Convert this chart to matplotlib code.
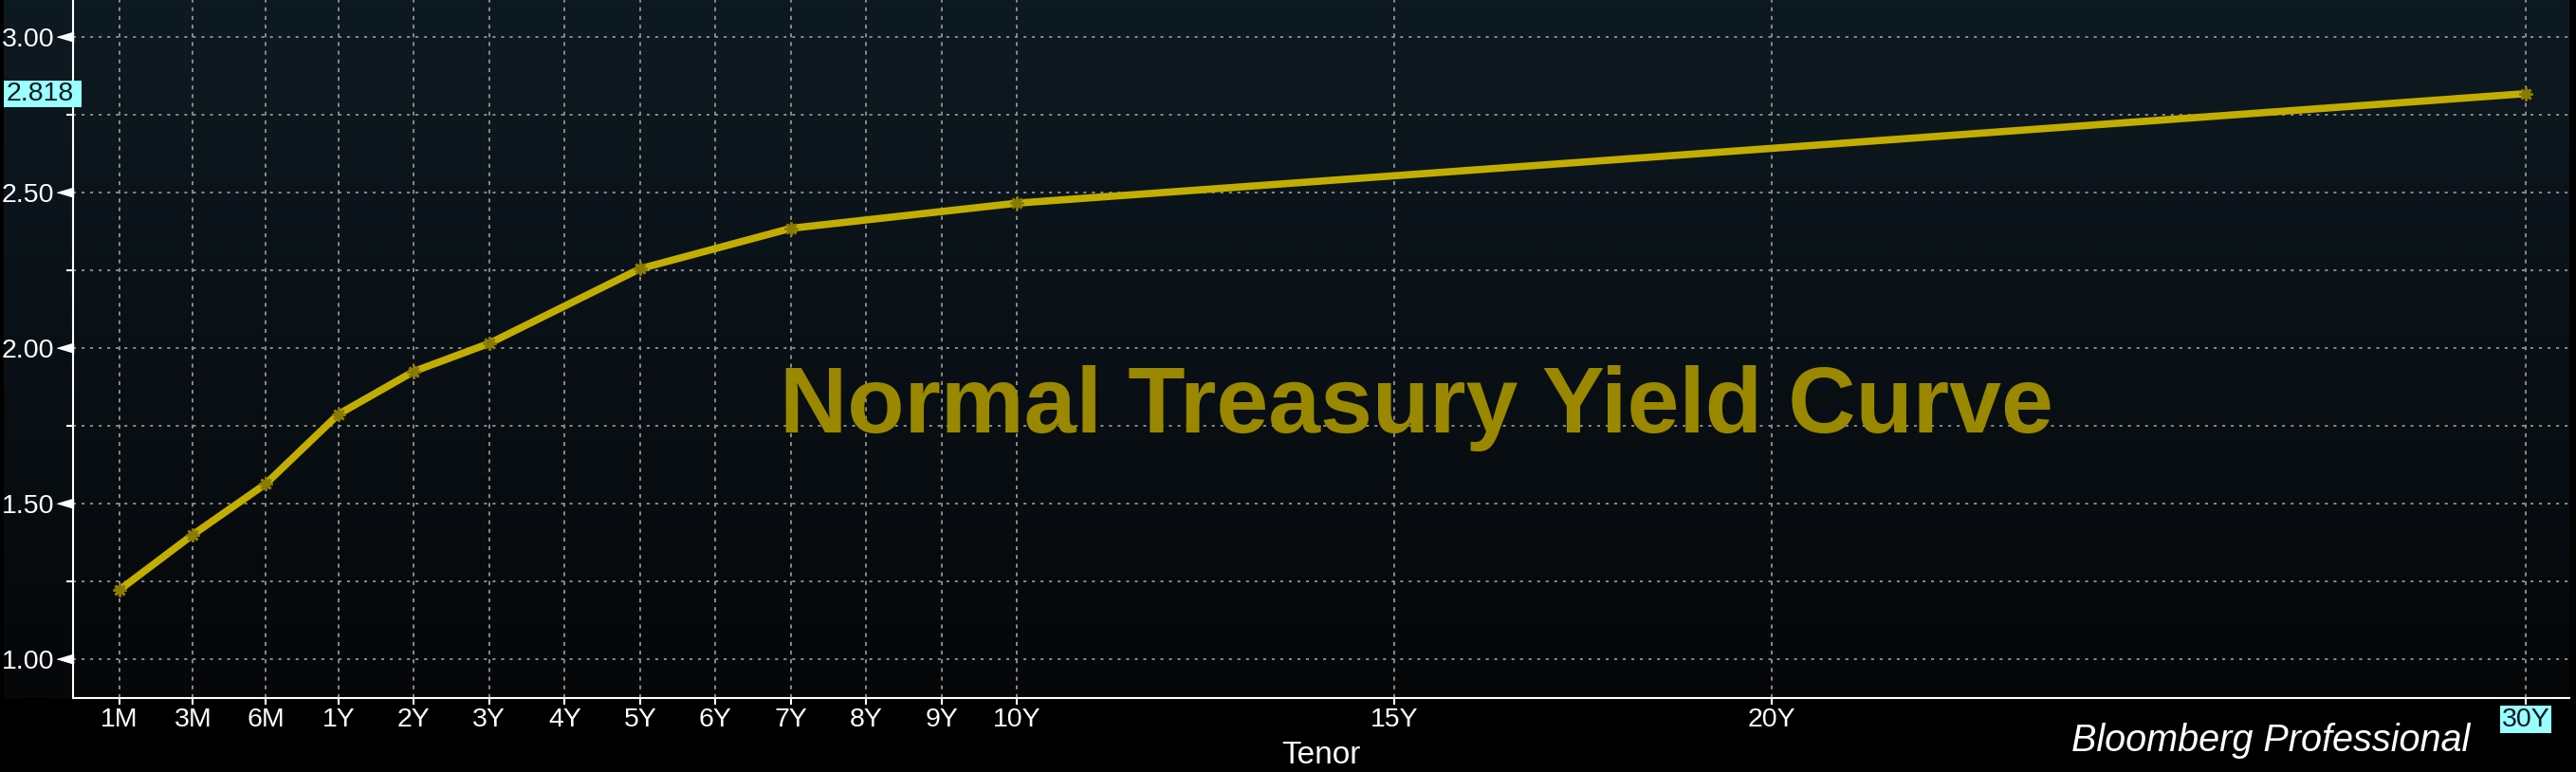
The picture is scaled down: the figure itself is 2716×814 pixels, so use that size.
import numpy as np
import matplotlib.pyplot as plt
from matplotlib.colors import LinearSegmentedColormap
from matplotlib.patches import Rectangle
from matplotlib.ticker import MultipleLocator, FormatStrFormatter
from matplotlib.transforms import offset_copy

plt.rcParams['lines.scale_dashes'] = False
plt.rcParams['font.family'] = ['Liberation Sans Narrow', 'Liberation Sans', 'DejaVu Sans']

# curve points (tenor in years, yield in %)
tenor_years = [1/12, 0.25, 0.5, 1, 2, 3, 5, 7, 10, 30]
yields = [1.223, 1.40, 1.564, 1.787, 1.925, 2.015, 2.255, 2.385, 2.466, 2.818]

# x axis ticks
tick_labels = ['1M', '3M', '6M', '1Y', '2Y', '3Y', '4Y', '5Y', '6Y', '7Y', '8Y', '9Y', '10Y', '15Y', '20Y', '30Y']
tick_years = [1/12, 0.25, 0.5, 1, 2, 3, 4, 5, 6, 7, 8, 9, 10, 15, 20, 30]


# Bloomberg squeezes the month tenors onto evenly spaced slots left of 1Y
def axis_pos(t):
    return np.interp(t, [1/12, 0.25, 0.5, 1, 50], [-1.9, -0.93, 0.04, 1, 50])


W, H = 2716, 814
fig = plt.figure(figsize=(W / 100, H / 100), dpi=100, facecolor='black')

# dark gradient backdrop
bg = fig.add_axes([4 / W, 1 - 736 / H, (2709 - 4) / W, 736 / H])
cmap = LinearSegmentedColormap.from_list('bbg', ['#050709', '#0e1a22'])
bg.imshow(np.linspace(0, 1, 256).reshape(-1, 1)[::-1], aspect='auto', cmap=cmap, extent=[0, 1, 0, 1])
bg.axis('off')

ax = fig.add_axes([77 / W, 1 - 736 / H, 2632 / W, 736 / H])
ax.set_facecolor('none')
ax.set_zorder(1)

ymin, ymax = 0.875, 3.119
ax.set_ylim(ymin, ymax)
ax.set_xlim(-2.518, 30.58)

ax.plot(axis_pos(np.array(tenor_years)), yields, color='#c2ae00', lw=5.5, zorder=3,
        marker=(8, 2, 0), markersize=10, markeredgewidth=2, markeredgecolor='#8a7a00')

ax.yaxis.set_major_locator(MultipleLocator(0.5))
ax.yaxis.set_minor_locator(MultipleLocator(0.25))
ax.yaxis.set_major_formatter(FormatStrFormatter('%.2f'))
ax.set_xticks(axis_pos(np.array(tick_years)), tick_labels)

ax.grid(axis='y', which='both', color='#8a8a8a', lw=1.4, linestyle=(0, (2.2, 4.3)))
ax.grid(axis='x', which='major', color='#8a8a8a', lw=1.4, linestyle=(0, (3, 3.6)))
ax.set_axisbelow(True)

for s in ['top', 'right']:
    ax.spines[s].set_visible(False)
for s in ['left', 'bottom']:
    ax.spines[s].set_color('white')
    ax.spines[s].set_linewidth(1.5)

ax.tick_params(axis='x', length=5, width=1.5, color='white', labelcolor='white', labelsize=20.5, pad=2)
ax.tick_params(axis='y', which='major', length=12.2, width=0, color='none', labelcolor='white', labelsize=20.5, pad=2)
ax.tick_params(axis='y', which='minor', length=5, width=1.5, color='white')

# white arrowheads on the major y ticks
major_vals = np.arange(1.0, 3.01, 0.5)
ax.plot(np.zeros(len(major_vals)), major_vals, linestyle='none', marker=[(-1, 0), (0, 0.3), (0, -0.3)],
        markersize=24.5, color='white', transform=ax.get_yaxis_transform(), clip_on=False)

# last value tag on the y axis
ppu = 736 / (ymax - ymin)
tag_tr = offset_copy(ax.get_yaxis_transform(), fig=fig, x=-73, y=0, units='dots')
ax.add_patch(Rectangle((0, yields[-1] - 14 / ppu), 82 / 2632, 28 / ppu, transform=tag_tr,
                       facecolor='#99ffff', edgecolor='none', clip_on=False, zorder=5))
ax.text(0, yields[-1], f'{yields[-1]:.3f}', transform=offset_copy(ax.get_yaxis_transform(), fig=fig, x=-70, y=0, units='dots'),
        ha='left', va='center', fontsize=20.5, color='#101820', clip_on=False, zorder=6)

last = ax.get_xticklabels()[-1]
last.set_color('#101820')
last.set_bbox(dict(facecolor='#99ffff', edgecolor='none', pad=1))

ax.set_xlabel('Tenor', fontsize=24, family='Liberation Sans', color='white', labelpad=7)

ax.text(0.538, 0.380, 'Normal Treasury Yield Curve', transform=ax.transAxes, ha='center', va='baseline',
        fontsize=71, weight='bold', family='Liberation Sans', color='#998800', zorder=2)

fig.text(2604 / W, 1 - 792 / H, 'Bloomberg Professional', ha='right', va='baseline',
         fontsize=28.5, style='italic', family='Liberation Sans', color='white')

fig.savefig('out.png', dpi=100, facecolor='black')
